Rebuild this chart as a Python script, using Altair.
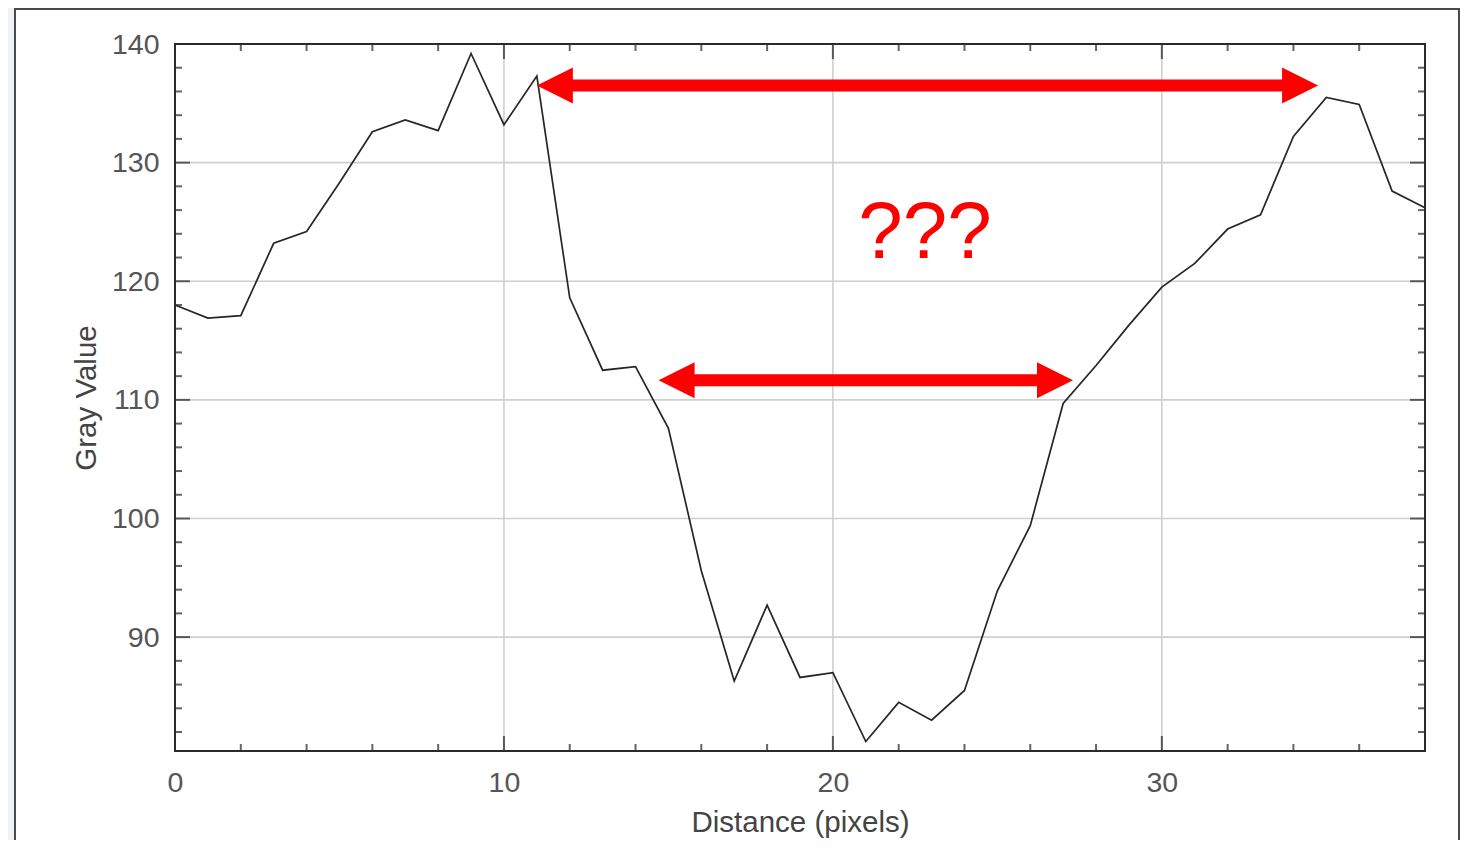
import altair as alt
import pandas as pd

# Profile data (distance in pixels, gray value)
distance = list(range(0, 39))
gray = [118.0, 116.9, 117.1, 123.2, 124.2, 128.3, 132.6, 133.6, 132.7, 139.2,
        133.2, 137.3, 118.6, 112.5, 112.8, 107.6, 95.6, 86.3, 92.7, 86.6,
        87.0, 81.2, 84.5, 83.0, 85.5, 93.9, 99.4, 109.7, 112.9, 116.3,
        119.5, 121.5, 124.4, 125.6, 132.2, 135.5, 134.9, 127.6, 126.2]

# Annotation arrows: (x start tip, x end tip, y)
arrow_x1 = [11.0, 14.7]
arrow_x2 = [34.75, 27.3]
arrow_y = [136.5, 111.65]

label_text = ["???"]
label_x = [22.8]
label_y = [124.0]

x_labels = [0, 10, 20, 30]
y_labels = [90, 100, 110, 120, 130, 140]
x_major = [10, 20, 30]
x_minor = [2, 4, 6, 8, 12, 14, 16, 18, 22, 24, 26, 28, 32, 34, 36]
y_major = [90, 100, 110, 120, 130]
y_minor = [82, 84, 86, 88, 92, 94, 96, 98, 102, 104, 106, 108, 112, 114, 116, 118,
           122, 124, 126, 128, 132, 134, 136, 138]

W, H = 1250, 707
XMIN, XMAX = 0, 38
YMIN, YMAX = 80.4, 140
px_per_x = W / (XMAX - XMIN)

xs = alt.Scale(domain=[XMIN, XMAX], nice=False, zero=False)
ys = alt.Scale(domain=[YMIN, YMAX], nice=False, zero=False)

AX = alt.Axis(values=x_labels, title="Distance (pixels)", grid=False, tickSize=0,
              domain=False, zindex=1, labelPadding=17, titlePadding=12,
              labelFlush=False, labelOverlap=False)
AY = alt.Axis(values=y_labels, title="Gray Value", grid=False, tickSize=0,
              domain=False, zindex=1, labelPadding=16, titlePadding=10,
              labelFlush=False, labelOverlap=False)

def X(f):
    return alt.X(f, scale=xs, axis=AX)

def Y(f):
    return alt.Y(f, scale=ys, axis=AY)

df = pd.DataFrame({"d": distance, "g": gray})

head_len_px = 30
arrows = pd.DataFrame({"x1": arrow_x1, "x2": arrow_x2, "y": arrow_y})
arrows["s1"] = arrows["x1"] + head_len_px / px_per_x
arrows["s2"] = arrows["x2"] - head_len_px / px_per_x

xtick_df = pd.DataFrame({"v": x_major + x_minor,
                         "len": [30] * len(x_major) + [14] * len(x_minor)})
ytick_df = pd.DataFrame({"v": y_major + y_minor,
                         "len": [30] * len(y_major) + [14] * len(y_minor)})
xgrid_df = pd.DataFrame({"v": x_major})
ygrid_df = pd.DataFrame({"v": y_major})

one = alt.Data(values=[{"a": 1}])

# background frame (decoration)
frame = alt.Chart(one).mark_rect(
    fill="white", stroke="#4a4a4a", strokeWidth=2
).encode(
    x=alt.value(-160), x2=alt.value(1284), y=alt.value(-35), y2=alt.value(830)
)

xgrid = alt.Chart(xgrid_df).mark_rule(color="#cfcfcf", strokeWidth=1.6).encode(x=X("v:Q"))
ygrid = alt.Chart(ygrid_df).mark_rule(color="#cfcfcf", strokeWidth=1.6).encode(y=Y("v:Q"))

line = alt.Chart(df).mark_line(color="#262626", strokeWidth=1.7).encode(
    x=X("d:Q"), y=Y("g:Q")
)

def ticks(df_, channel, pos):
    enc = dict(size=alt.Size("len:Q", scale=None, legend=None))
    if channel == "x":
        enc["x"] = X("v:Q")
        enc["y"] = alt.value(pos)
    else:
        enc["y"] = Y("v:Q")
        enc["x"] = alt.value(pos)
    return alt.Chart(df_).mark_tick(color="#222", thickness=2, clip=True).encode(**enc)

xt_bottom = ticks(xtick_df, "x", H)
xt_top = ticks(xtick_df, "x", 0)
yt_left = ticks(ytick_df, "y", 0)
yt_right = ticks(ytick_df, "y", W)

border = alt.Chart(one).mark_rect(
    fillOpacity=0, stroke="#2a2a2a", strokeWidth=2
).encode(x=alt.value(0), x2=alt.value(W), y=alt.value(0), y2=alt.value(H))

shaft = alt.Chart(arrows).mark_rule(color="#ff0000", strokeWidth=12, strokeCap="butt").encode(
    x=X("s1:Q"), x2="s2:Q", y=Y("y:Q")
)
head_left = alt.Chart(arrows).mark_point(
    shape="M0,0 L2,-1 L2,1 Z", filled=True, color="#ff0000", opacity=1, size=1300
).encode(x=X("x1:Q"), y=Y("y:Q"))
head_right = alt.Chart(arrows).mark_point(
    shape="M0,0 L-2,-1 L-2,1 Z", filled=True, color="#ff0000", opacity=1, size=1300
).encode(x=X("x2:Q"), y=Y("y:Q"))

txt = alt.Chart(pd.DataFrame({"t": label_text, "x": label_x, "y": label_y})).mark_text(
    color="#ff0000", fontSize=80, font="Liberation Sans", baseline="middle", align="center"
).encode(x=X("x:Q"), y=Y("y:Q"), text="t:N")

chart = alt.layer(
    frame, xgrid, ygrid, line, xt_bottom, xt_top, yt_left, yt_right, border,
    shaft, head_left, head_right, txt
).properties(
    width=W, height=H, autosize=alt.AutoSizeParams(type="none"),
    padding={"left": 167, "top": 36, "right": 35, "bottom": 89},
    background="#eef2f5"
).configure_view(
    stroke=None
).configure_axis(
    labelFont="Liberation Sans", titleFont="Liberation Sans",
    labelFontSize=28.5, titleFontSize=29.5, labelColor="#555555", titleColor="#444444",
    titleFontWeight="normal"
)

chart.save("out.html", embed_options={"renderer": "svg", "actions": False})
